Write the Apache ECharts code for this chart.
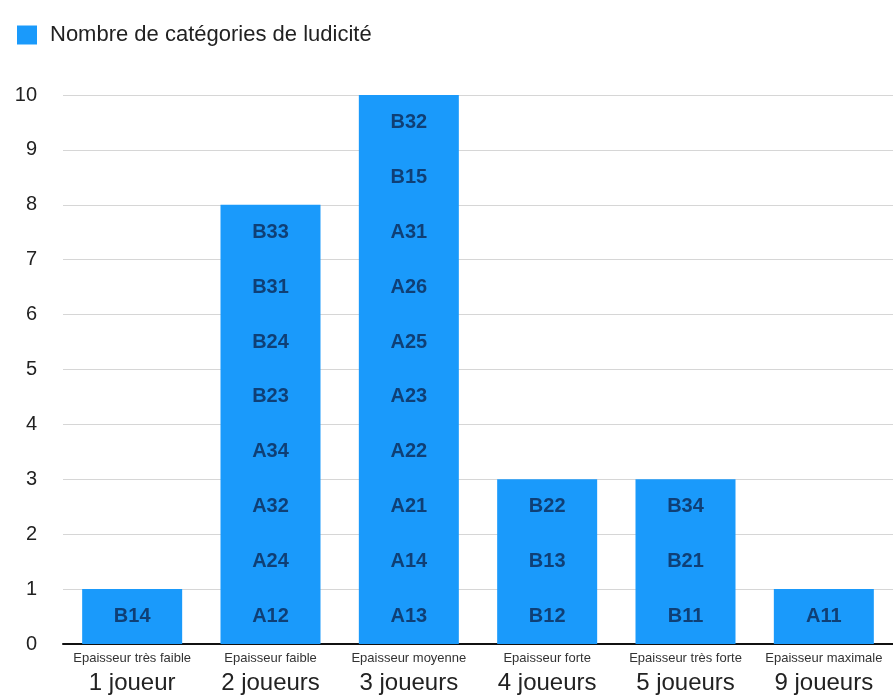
<!DOCTYPE html>
<html>
<head>
<meta charset="utf-8">
<script src="https://cdn.jsdelivr.net/npm/echarts@6/dist/echarts.min.js"></script>
<style>
  html, body { margin: 0; padding: 0; background: #fff; }
  #chart { width: 893px; height: 698px; }
</style>
</head>
<body>
<div id="chart"></div>
<script>
// players per group (big label) and thickness (small label)
const players = ['1 joueur', '2 joueurs', '3 joueurs', '4 joueurs', '5 joueurs', '9 joueurs'];
const thickness = ['Epaisseur très faible', 'Epaisseur faible', 'Epaisseur moyenne', 'Epaisseur forte', 'Epaisseur très forte', 'Epaisseur maximale'];
const counts = [1, 8, 10, 3, 3, 1];
// category codes, bottom to top
const codes = [
  ['B14'],
  ['A12', 'A24', 'A32', 'A34', 'B23', 'B24', 'B31', 'B33'],
  ['A13', 'A14', 'A21', 'A22', 'A23', 'A25', 'A26', 'A31', 'B15', 'B32'],
  ['B12', 'B13', 'B22'],
  ['B11', 'B21', 'B34'],
  ['A11']
];
const yTicks = [0, 1, 2, 3, 4, 5, 6, 7, 8, 9, 10];

const FONT = '"Liberation Sans", Arial, sans-serif';

const labelPoints = [];
codes.forEach((list, i) => {
  list.forEach((code, j) => labelPoints.push([i, j + 0.5, code]));
});

const chart = echarts.init(document.getElementById('chart'));
chart.setOption({
  animation: false,
  textStyle: { fontFamily: FONT },
  legend: {
    left: 12, top: 19,
    itemWidth: 20, itemHeight: 19,
    icon: 'rect',
    data: ['Nombre de catégories de ludicité'],
    textStyle: { fontSize: 22, color: '#222', fontFamily: FONT, padding: [3, 0, 0, 8] }
  },
  grid: { left: 63, right: -3, top: 95, bottom: 54 },
  xAxis: {
    type: 'category',
    data: players,
    axisLine: { lineStyle: { color: '#111', width: 2 } },
    axisTick: { show: false },
    axisLabel: {
      interval: 0,
      margin: 6,
      formatter: (v, i) => '{s|' + thickness[i] + '}\n{b|' + v + '}',
      rich: {
        s: { fontSize: 13, color: '#333', fontFamily: FONT, lineHeight: 16 },
        b: { fontSize: 24, color: '#222', fontFamily: FONT, lineHeight: 34 }
      }
    }
  },
  yAxis: {
    type: 'value',
    min: yTicks[0], max: yTicks[yTicks.length - 1], interval: 1,
    axisLine: { show: false },
    axisTick: { show: false },
    axisLabel: { fontSize: 20, color: '#222', margin: 26, fontFamily: FONT },
    splitLine: { lineStyle: { color: '#d6d6d6', width: 1 } }
  },
  series: [
    {
      name: 'Nombre de catégories de ludicité',
      type: 'bar',
      data: counts,
      barWidth: 100,
      itemStyle: { color: '#1a9afb' },
      z: 2
    },
    {
      type: 'scatter',
      data: labelPoints,
      symbolSize: 0,
      silent: true,
      z: 5,
      label: {
        show: true,
        position: 'inside',
        formatter: p => p.data[2],
        fontSize: 20,
        fontWeight: 'bold',
        color: '#0c2854',
        fontFamily: FONT
      }
    }
  ]
});
</script>
</body>
</html>
